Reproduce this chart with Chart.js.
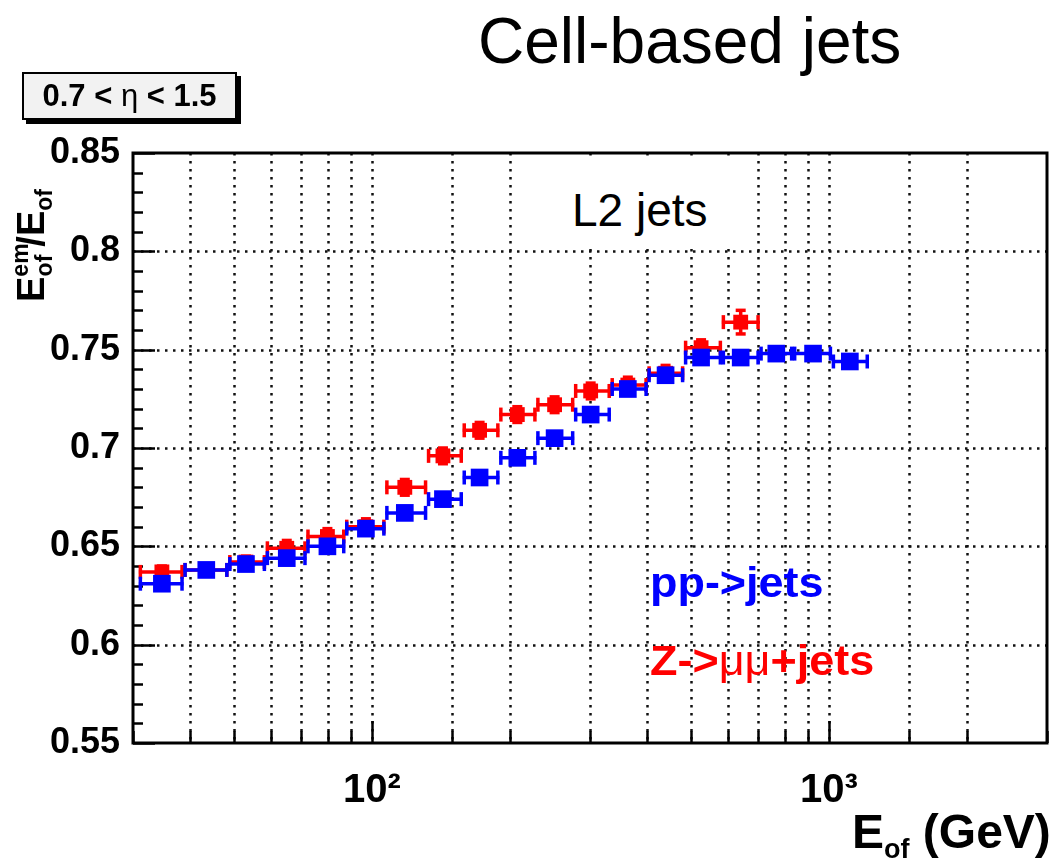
<!DOCTYPE html>
<html>
<head>
<meta charset="utf-8">
<script src="https://cdn.jsdelivr.net/npm/chart.js@4.4.0/dist/chart.umd.min.js"></script>
<style>
  html, body { margin: 0; padding: 0; background: #fff; }
  #wrap { position: relative; width: 1063px; height: 862px; font-family: 'Liberation Sans', Arial, sans-serif; }
  #grafico { display: block; }
  .txt { position: absolute; white-space: nowrap; line-height: 1; color: #000; }
  #titulo { left: 478px; top: 9px; font-size: 64px; }
  #eta { position: absolute; left: 22px; top: 72px; width: 215px; height: 48px; box-sizing: border-box;
         border: 2px solid #000; background: #f2f2f2; box-shadow: 4px 4px 0 #000;
         font-weight: bold; font-size: 31px; line-height: 44px; text-align: center; }
  #eta .g { font-weight: normal; }
  #caixaL2 { position: absolute; left: 545px; top: 156px; width: 185px; height: 90px; background: #fff; }
  #l2 { left: 572px; top: 187px; font-size: 46px; }
  #leg1 { left: 650px; top: 562px; font-size: 42px; font-weight: bold; color: #0000ff; transform: scaleX(1.07); transform-origin: 0 0; }
  #leg2 { left: 650px; top: 640px; font-size: 42px; font-weight: bold; color: #ff0000; transform: scaleX(1.07); transform-origin: 0 0; }
  #leg2 .g { font-weight: normal; }
  #xtit { left: 852px; top: 808px; font-size: 48px; font-weight: bold; }
  #xtit .s { font-size: 27px; position: relative; top: 10px; }
  #ytit { left: 12px; top: 302px; font-size: 38px; font-weight: bold; transform: rotate(-90deg); transform-origin: 0 0; }
  #ytit .sp { font-size: 23px; position: relative; top: -16px; }
  #ytit .sb { font-size: 23px; position: relative; top: 8px; }
</style>
</head>
<body>
<div id="wrap">
  <canvas id="grafico"></canvas>
  <div class="txt" id="titulo">Cell-based jets</div>
  <div id="eta">0.7 &lt; <span class="g">η</span> &lt; 1.5</div>
  <div id="caixaL2"></div>
  <div class="txt" id="l2">L2 jets</div>
  <div class="txt" id="leg1">pp-&gt;jets</div>
  <div class="txt" id="leg2">Z-&gt;<span class="g">μμ</span>+jets</div>
  <div class="txt" id="xtit">E<span class="s">of</span> (GeV)</div>
  <div class="txt" id="ytit">E<span class="sp">em</span><span class="sb" style="margin-left:-33px">of</span><span style="margin-left:8px">/</span>E<span class="sb">of</span></div>
</div>
<script>
// limites dos bins em E (GeV)
const bordas = [30.9, 38.7, 48.5, 58.6, 71.9, 87.4, 107, 132, 158, 190, 229, 277, 333, 401, 482, 583, 705, 835, 1015, 1222];
const centros = [34.7, 43.4, 53.0, 65.1, 79.9, 97.0, 118, 143, 172, 208, 251, 301, 363, 439, 525, 641, 767, 923, 1111];

const ppJets = [0.631, 0.638, 0.641, 0.644, 0.650, 0.659, 0.667, 0.674, 0.685, 0.695, 0.705, 0.717, 0.730, 0.737, 0.746, 0.746, 0.748, 0.748, 0.744];
const ppErro = [0.002, 0.002, 0.002, 0.002, 0.002, 0.002, 0.002, 0.002, 0.002, 0.002, 0.002, 0.002, 0.002, 0.002, 0.002, 0.002, 0.002, 0.002, 0.002];

const zJets = [0.637, 0.638, 0.642, 0.649, 0.655, 0.660, 0.680, 0.696, 0.709, 0.717, 0.722, 0.729, 0.732, 0.738, 0.751, 0.764];
const zErro = [0.003, 0.003, 0.003, 0.004, 0.004, 0.004, 0.004, 0.004, 0.004, 0.004, 0.004, 0.004, 0.004, 0.004, 0.004, 0.006];

const ticksX = { 100: '10²', 1000: '10³' };

function montaPontos(valores) {
  return valores.map((v, i) => ({ x: centros[i], y: v }));
}

function eMaior(v) {
  return Math.abs(v * 20 - Math.round(v * 20)) < 1e-6;
}

function linha(ctx, x1, y1, x2, y2) {
  ctx.beginPath();
  ctx.moveTo(x1, y1);
  ctx.lineTo(x2, y2);
  ctx.stroke();
}

// grade pontilhada, ticks para dentro e moldura (estilo ROOT)
const moldura = {
  id: 'moldura',
  beforeDatasetsDraw(chart) {
    const { ctx, chartArea: a, scales: { x, y } } = chart;
    ctx.save();
    ctx.strokeStyle = '#111';
    ctx.lineWidth = 2.5;
    ctx.setLineDash([2.5, 5.5]);
    x.ticks.forEach(t => {
      const px = Math.round(x.getPixelForValue(t.value)) + 0.5;
      if (px < a.left + 3 || px > a.right - 3) return;
      linha(ctx, px, a.top, px, a.bottom);
    });
    y.ticks.forEach(t => {
      if (!eMaior(t.value)) return;
      const py = Math.round(y.getPixelForValue(t.value)) + 0.5;
      if (py < a.top + 3 || py > a.bottom - 3) return;
      linha(ctx, a.left, py, a.right, py);
    });
    ctx.setLineDash([]);
    ctx.strokeStyle = '#000';
    ctx.lineWidth = 2.5;
    x.ticks.forEach(t => {
      const px = Math.round(x.getPixelForValue(t.value)) + 0.5;
      const tam = ticksX[t.value] ? 22 : 12;
      linha(ctx, px, a.bottom, px, a.bottom - tam);
    });
    y.ticks.forEach(t => {
      const py = Math.round(y.getPixelForValue(t.value)) + 0.5;
      const tam = eMaior(t.value) ? 22 : 10;
      linha(ctx, a.left, py, a.left + tam, py);
    });
    ctx.lineWidth = 3;
    ctx.strokeRect(a.left, a.top, a.right - a.left, a.bottom - a.top);
    ctx.restore();
  }
};

// barras de erro desenhadas antes de cada serie
const barrasErro = {
  id: 'barrasErro',
  beforeDatasetDraw(chart, args) {
    const { ctx, scales: { x, y } } = chart;
    const ds = chart.data.datasets[args.index];
    ctx.save();
    ctx.strokeStyle = ds.backgroundColor;
    ctx.lineWidth = 3.5;
    ds.data.forEach((p, i) => {
      const x1 = x.getPixelForValue(bordas[i]);
      const x2 = x.getPixelForValue(bordas[i + 1]);
      const px = x.getPixelForValue(p.x);
      const py = y.getPixelForValue(p.y);
      linha(ctx, x1, py, x2, py);
      linha(ctx, x1 + 1.5, py - 7, x1 + 1.5, py + 7);
      linha(ctx, x2 - 1.5, py - 7, x2 - 1.5, py + 7);
      const y1 = y.getPixelForValue(p.y + ds.erros[i]);
      const y2 = y.getPixelForValue(p.y - ds.erros[i]);
      linha(ctx, px, y1, px, y2);
      linha(ctx, px - 5, y1, px + 5, y1);
      linha(ctx, px - 5, y2, px + 5, y2);
    });
    ctx.restore();
  }
};

const grafico = new Chart(document.getElementById('grafico'), {
  type: 'scatter',
  data: {
    datasets: [{
      label: 'pp->jets',
      data: montaPontos(ppJets),
      erros: ppErro,
      backgroundColor: '#0000ff',
      pointStyle: 'rect',
      pointRadius: 12.5,
      pointBorderWidth: 0
    }, {
      label: 'Z->μμ+jets',
      data: montaPontos(zJets),
      erros: zErro,
      backgroundColor: '#ff0000',
      pointStyle: 'rect',
      pointRadius: 10.5,
      pointBorderWidth: 0
    }]
  },
  options: {
    responsive: true,
    maintainAspectRatio: false,
    animation: false,
    layout: { padding: { left: 0, top: 153, right: 11, bottom: 0 } },
    plugins: { legend: { display: false }, tooltip: { enabled: false } },
    scales: {
      x: {
        type: 'logarithmic',
        min: 30,
        max: 3000,
        grid: { display: false },
        border: { display: false },
        afterFit: s => { s.height = 119; },
        ticks: {
          autoSkip: false,
          maxRotation: 0,
          padding: 16,
          color: '#000',
          font: { family: 'Liberation Sans', size: 40, weight: 'bold' },
          callback: v => ticksX[v] || ''
        }
      },
      y: {
        min: 0.55,
        max: 0.85,
        grid: { display: false },
        border: { display: false },
        afterFit: s => { s.width = 133; },
        ticks: {
          stepSize: 0.01,
          autoSkip: false,
          padding: 5,
          color: '#000',
          font: { family: 'Liberation Sans', size: 36, weight: 'bold' },
          callback: v => eMaior(v) ? String(Number(v.toFixed(2))) : ''
        }
      }
    }
  },
  plugins: [moldura, barrasErro]
});
</script>
</body>
</html>
